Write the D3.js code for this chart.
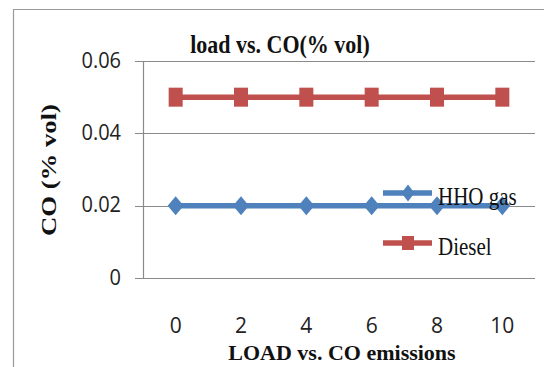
<!DOCTYPE html>
<html>
<head>
<meta charset="utf-8">
<script src="https://d3js.org/d3.v7.min.js"></script>
<style>
  body { margin: 0; background: #fff; }
  svg { display: block; }
</style>
</head>
<body>
<svg id="chart" width="544" height="367"></svg>
<script>
// data
let loads = [0, 2, 4, 6, 8, 10];
let hhoGas = [0.02, 0.02, 0.02, 0.02, 0.02, 0.02];
let diesel = [0.05, 0.05, 0.05, 0.05, 0.05, 0.05];
let yTicks = [0, 0.02, 0.04, 0.06];
let seriesNames = ['HHO gas', 'Diesel'];

let width = 544;
let height = 367;
let plot = {left: 143, right: 535, top: 61, bottom: 278};
let blue = '#4f81bd';
let red = '#c0504d';
let gridColor = '#8a8a8a';
let serif = '"Liberation Serif", "Times New Roman", serif';
let sans = '"Open Sans", sans-serif';
// the source picture is a little stretched vertically
let stretch = 1.18;

let svg = d3.select('#chart');

let x = d3.scaleBand()
    .domain(loads)
    .range([plot.left, plot.right]);

let y = d3.scaleLinear()
    .domain([0, 0.06])
    .range([plot.bottom, plot.top]);

let cx = d => x(d) + x.bandwidth() / 2;

// outer chart frame (left and top edges show)
svg.append('path')
    .attr('d', `M13.5,${height} L13.5,9.5 L${width},9.5`)
    .attr('fill', 'none')
    .attr('stroke', '#9a9a9a')
    .attr('stroke-width', 1.2);

// gridlines, with the little outward tick
svg.append('g')
    .selectAll('line')
    .data(yTicks)
    .join('line')
    .attr('x1', plot.left - 8)
    .attr('x2', plot.right)
    .attr('y1', d => Math.round(y(d)) + 0.5)
    .attr('y2', d => Math.round(y(d)) + 0.5)
    .attr('stroke', gridColor)
    .attr('stroke-width', 1.2);

// vertical axis line
svg.append('line')
    .attr('x1', plot.left + 0.5)
    .attr('x2', plot.left + 0.5)
    .attr('y1', plot.top)
    .attr('y2', plot.bottom)
    .attr('stroke', gridColor)
    .attr('stroke-width', 1.2);

// y tick labels
let yAxis = svg.append('g')
    .attr('transform', `translate(${plot.left - 8},0)`)
    .call(d3.axisLeft(y)
        .tickValues(yTicks)
        .tickSize(0)
        .tickPadding(14)
        .tickFormat(d => d === 0 ? '0' : d3.format('.2f')(d)));
yAxis.select('.domain').remove();
yAxis.selectAll('text')
    .attr('font-family', sans)
    .attr('font-size', 20)
    .attr('fill', '#222')
    .attr('dy', '0.28em')
    .attr('transform', 'scale(1,1.12)');

// x tick labels
let xAxis = svg.append('g')
    .attr('transform', `translate(0,${plot.bottom})`)
    .call(d3.axisBottom(x).tickSize(0).tickPadding(40));
xAxis.select('.domain').remove();
xAxis.selectAll('text')
    .attr('font-family', sans)
    .attr('font-size', 21)
    .attr('fill', '#222');

// series
let line = d3.line()
    .x((d, i) => cx(loads[i]))
    .y(d => y(d));

let diamond = (w, h) => `M0,${-h/2} L${w/2},0 L0,${h/2} L${-w/2},0 Z`;

svg.append('path')
    .datum(diesel)
    .attr('d', line)
    .attr('fill', 'none')
    .attr('stroke', red)
    .attr('stroke-width', 5.5);

svg.append('g')
    .selectAll('rect')
    .data(diesel)
    .join('rect')
    .attr('x', (d, i) => cx(loads[i]) - 7)
    .attr('y', d => y(d) - 9.5)
    .attr('width', 14)
    .attr('height', 19)
    .attr('fill', red);

svg.append('path')
    .datum(hhoGas)
    .attr('d', line)
    .attr('fill', 'none')
    .attr('stroke', blue)
    .attr('stroke-width', 5.5);

svg.append('g')
    .selectAll('path')
    .data(hhoGas)
    .join('path')
    .attr('transform', (d, i) => `translate(${cx(loads[i])},${y(d)})`)
    .attr('d', diamond(16, 19))
    .attr('fill', blue);

// legend
let legend = svg.append('g');
let legendRows = [
    {name: seriesNames[0], color: blue, y: 193, shape: 'diamond'},
    {name: seriesNames[1], color: red, y: 243, shape: 'square'}
];
legendRows.forEach(r => {
    legend.append('line')
        .attr('x1', 383).attr('x2', 432)
        .attr('y1', r.y).attr('y2', r.y)
        .attr('stroke', r.color)
        .attr('stroke-width', 5.5);
    if (r.shape === 'diamond') {
        legend.append('path')
            .attr('transform', `translate(408,${r.y})`)
            .attr('d', diamond(13, 17))
            .attr('fill', r.color);
    } else {
        legend.append('rect')
            .attr('x', 402).attr('y', r.y - 7)
            .attr('width', 12).attr('height', 14)
            .attr('fill', r.color);
    }
    legend.append('text')
        .attr('transform', `translate(438,${r.y + 12}) scale(1,${stretch})`)
        .attr('font-family', serif)
        .attr('font-size', 21)
        .attr('fill', '#111')
        .text(r.name);
});

// titles
svg.append('text')
    .attr('transform', `translate(280,53) scale(1,${stretch})`)
    .attr('text-anchor', 'middle')
    .attr('font-family', serif)
    .attr('font-weight', 'bold')
    .attr('font-size', 22)
    .attr('fill', '#111')
    .text('load vs. CO(% vol)');

svg.append('text')
    .attr('x', 342)
    .attr('y', 360)
    .attr('text-anchor', 'middle')
    .attr('font-family', serif)
    .attr('font-weight', 'bold')
    .attr('font-size', 22)
    .attr('fill', '#111')
    .text('LOAD vs. CO emissions');

svg.append('text')
    .attr('transform', 'translate(56,170) rotate(-90)')
    .attr('text-anchor', 'middle')
    .attr('font-family', serif)
    .attr('font-weight', 'bold')
    .attr('font-size', 22)
    .attr('fill', '#111')
    .attr('textLength', 132)
    .attr('lengthAdjust', 'spacingAndGlyphs')
    .text('CO (% vol)');
</script>
</body>
</html>
